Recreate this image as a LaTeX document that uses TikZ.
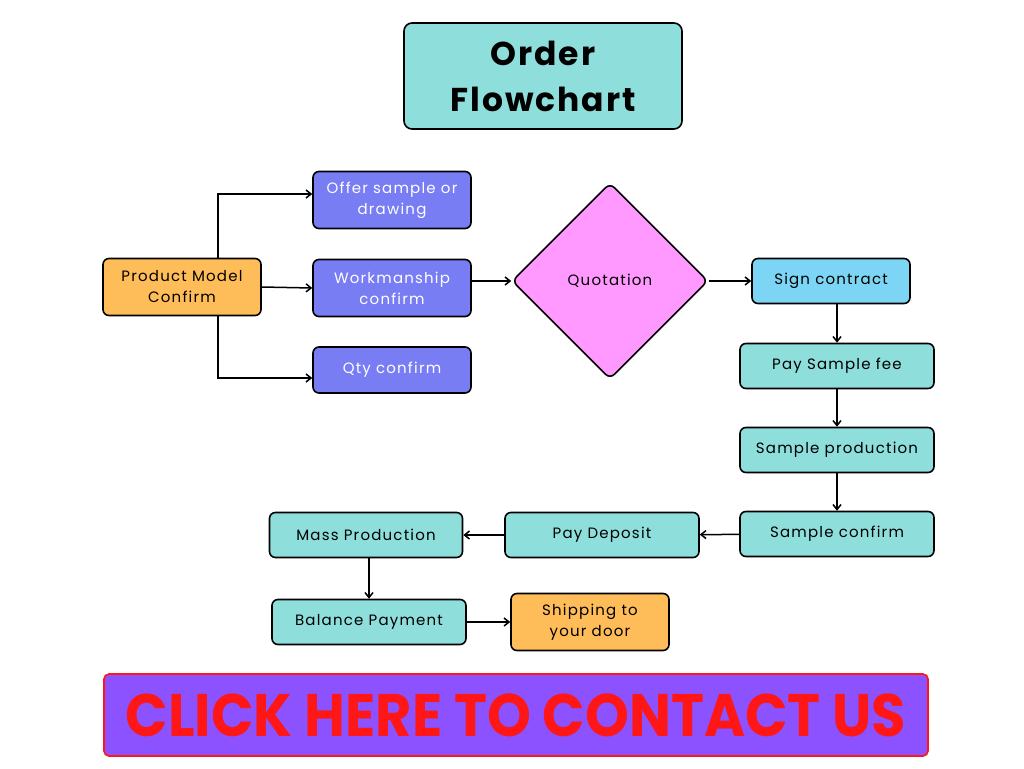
\documentclass[tikz,border=0pt]{standalone}
\usepackage{fontspec}
\setmainfont{Poppins}
\newfontfamily\bodyfont{Poppins}[LetterSpace=8]
\usetikzlibrary{arrows.meta,shapes.geometric}
\definecolor{tealbox}{HTML}{8EDEDC}
\definecolor{orangebox}{HTML}{FFBD59}
\definecolor{periwinkle}{HTML}{787DF4}
\definecolor{pinkdia}{HTML}{FF99FF}
\definecolor{skybox}{HTML}{7DD5F5}
\definecolor{ctafill}{HTML}{8C52FF}
\definecolor{ctared}{HTML}{FF1616}
\tikzset{
  box/.style    ={rounded corners=6pt, draw=black, line width=1.6pt, fill=#1, align=center,
                  inner sep=2pt, font=\bodyfont\fontsize{15}{21}\selectfont},
  onebox/.style ={box=#1, minimum height=45pt},
  twobox/.style ={box=#1, minimum height=57pt},
  flowarr/.style={-{Straight Barb[length=5pt,width=8pt]}, line width=1.5pt},
}
\begin{document}
\begin{tikzpicture}[x=1pt, y=-1pt]
\fill[white] (0,0) rectangle (1024,768);
\useasboundingbox (0,0) rectangle (1024,768);
% title
\node[box=tealbox, minimum width=278pt, minimum height=106pt, rounded corners=8pt,
      font=\fontsize{33}{46}\selectfont\bfseries\addfontfeatures{LetterSpace=6}] (title) at (543,76) {Order\\Flowchart};
% left fan
\node[twobox=orangebox, minimum width=158pt] (prod) at (182,287) {Product Model\\Confirm};
\node[twobox=periwinkle, minimum width=158pt, text=white] (offer) at (392,200) {Offer sample or\\drawing};
\node[twobox=periwinkle, minimum width=158pt, text=white] (work) at (392,288) {Workmanship\\confirm};
\node[onebox=periwinkle, minimum width=158pt, text=white, minimum height=46pt] (qty) at (392,370) {Qty confirm};
\draw[flowarr] ([xshift=36pt]prod.north) |- ([yshift=6pt]offer.west);
\draw[flowarr] (prod.east) -- (work.west);
\draw[flowarr] ([xshift=36pt]prod.south) |- ([yshift=-8pt]qty.west);
% quotation
\node[diamond, aspect=1, draw=black, line width=1.6pt, fill=pinkdia, rounded corners=6pt,
      minimum width=196pt, minimum height=196pt, font=\bodyfont\fontsize{15}{21}\selectfont] (quote) at (610,281) {Quotation};
\draw[flowarr] (work.east |- quote.west) -- (quote.west);
% right column
\node[onebox=skybox, minimum width=158pt] (sign) at (831,281) {Sign contract};
\node[onebox=tealbox, minimum width=194pt] (psf) at (837,366) {Pay Sample fee};
\node[onebox=tealbox, minimum width=194pt] (sprod) at (837,450) {Sample production};
\node[onebox=tealbox, minimum width=194pt] (sconf) at (837,534) {Sample confirm};
\draw[flowarr] (quote.east) -- (sign.west);
\draw[flowarr] (sign.south -| psf.north) -- (psf.north);
\draw[flowarr] (psf) -- (sprod);
\draw[flowarr] (sprod) -- (sconf);
% bottom rows
\node[onebox=tealbox, minimum width=194pt] (dep) at (602,535) {Pay Deposit};
\node[onebox=tealbox, minimum width=193pt] (mass) at (366,535) {Mass Production};
\node[onebox=tealbox, minimum width=194pt] (bal) at (369,622) {Balance Payment};
\node[twobox=orangebox, minimum width=158pt] (ship) at (590,622) {Shipping to\\your door};
\draw[flowarr] (sconf) -- (dep);
\draw[flowarr] (dep) -- (mass);
\draw[flowarr] (mass.south -| bal.north) -- (bal.north);
\draw[flowarr] (bal) -- (ship);
% call to action
\node[rounded corners=5pt, draw=ctared, line width=1.6pt, fill=ctafill, text=ctared,
      minimum width=824pt, minimum height=82pt] (cta) at (516,715)
      {\scalebox{0.93}[1]{\fontsize{60}{60}\selectfont\bfseries CLICK HERE TO CONTACT US}};
\end{tikzpicture}
\end{document}
